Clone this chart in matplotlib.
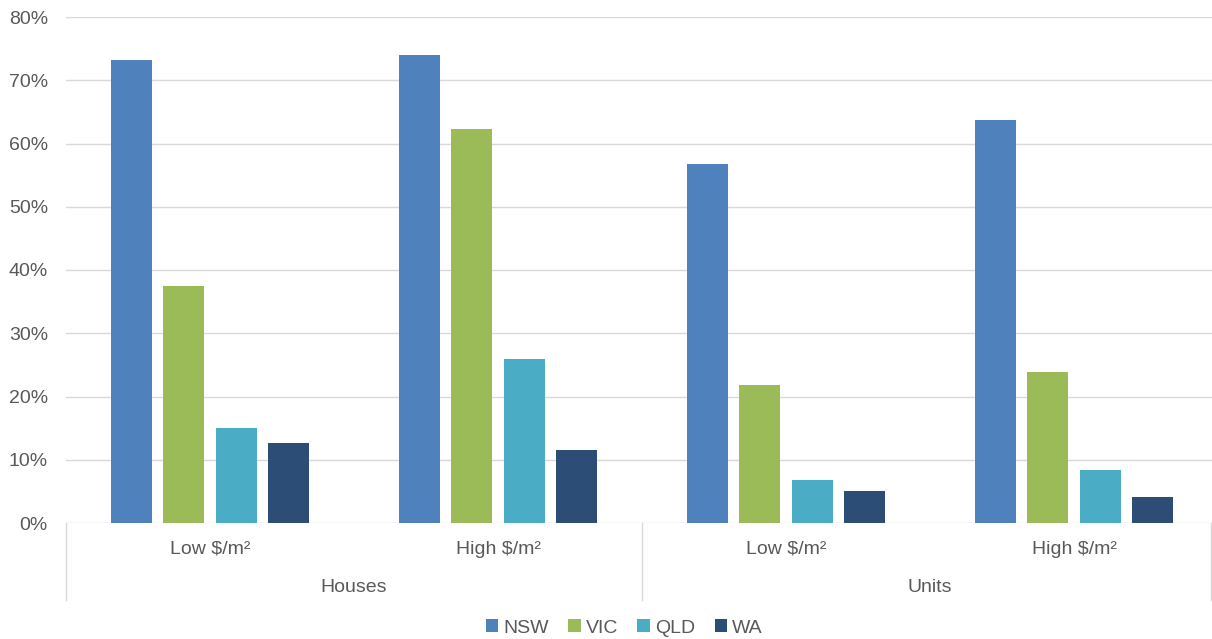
import matplotlib
matplotlib.use("Agg")
import matplotlib.pyplot as plt
from matplotlib.ticker import PercentFormatter
import numpy as np

# Share of sales by state, grouped by dwelling type and price band
groups = ["Houses", "Units"]
bands = ["Low $/m²", "High $/m²", "Low $/m²", "High $/m²"]
states = ["NSW", "VIC", "QLD", "WA"]
nsw = [73.2, 74.0, 56.8, 63.7]
vic = [37.5, 62.3, 21.8, 23.9]
qld = [15.0, 25.9, 6.8, 8.4]
wa = [12.6, 11.5, 5.1, 4.1]
colors = ["#4F81BD", "#9BBB59", "#4BACC6", "#2C4D75"]

plt.rcParams['font.family'] = ['Liberation Sans', 'DejaVu Sans']
text_col = "#595959"
grid_col = "#D9D9D9"
fs = 14

fig = plt.figure(figsize=(12.12, 6.39), dpi=100)
ax = fig.add_axes([66 / 1212, 1 - 523 / 639, 1 - 66 / 1212, (523 - 17) / 639])

x = np.arange(len(bands))
step = 0.1816
width = 0.1424
for i, (vals, c, name) in enumerate(zip([nsw, vic, qld, wa], colors, states)):
    ax.bar(x + (i - 1.5) * step, vals, width, color=c, label=name, zorder=3)

ax.set_ylim(0, 80)
ax.set_xlim(-0.5, -0.5 + 1146 / 288)
ax.set_yticks(np.arange(0, 81, 10))
ax.yaxis.set_major_formatter(PercentFormatter(decimals=0))
ax.tick_params(axis='y', length=0, pad=13, labelsize=fs, labelcolor=text_col)
ax.set_xticks([])
ax.grid(axis='y', color=grid_col, linewidth=1, zorder=0)
for s in ax.spines.values():
    s.set_visible(False)

# two-level category axis below the bars
tr = ax.get_xaxis_transform()
for xi, lab in zip(x, bands):
    ax.text(xi, -0.052, lab, transform=tr, ha='center', va='center',
            fontsize=fs, color=text_col)
for gi, g in enumerate(groups):
    ax.text(2 * gi + 0.5, -0.128, g, transform=tr, ha='center', va='center',
            fontsize=fs, color=text_col)
for xs in [-0.5, 1.5, ax.get_xlim()[1] - 0.003]:
    ax.plot([xs, xs], [0, -0.152], transform=tr, color=grid_col,
            linewidth=1, clip_on=False)

leg = fig.legend(loc='center', bbox_to_anchor=(0.515, 1 - 628 / 639), ncol=4,
                 frameon=False, fontsize=fs, handlelength=0.65, handleheight=0.65,
                 handletextpad=0.25, columnspacing=1.0)
for t in leg.get_texts():
    t.set_color(text_col)

fig.savefig("out.png", dpi=100)
